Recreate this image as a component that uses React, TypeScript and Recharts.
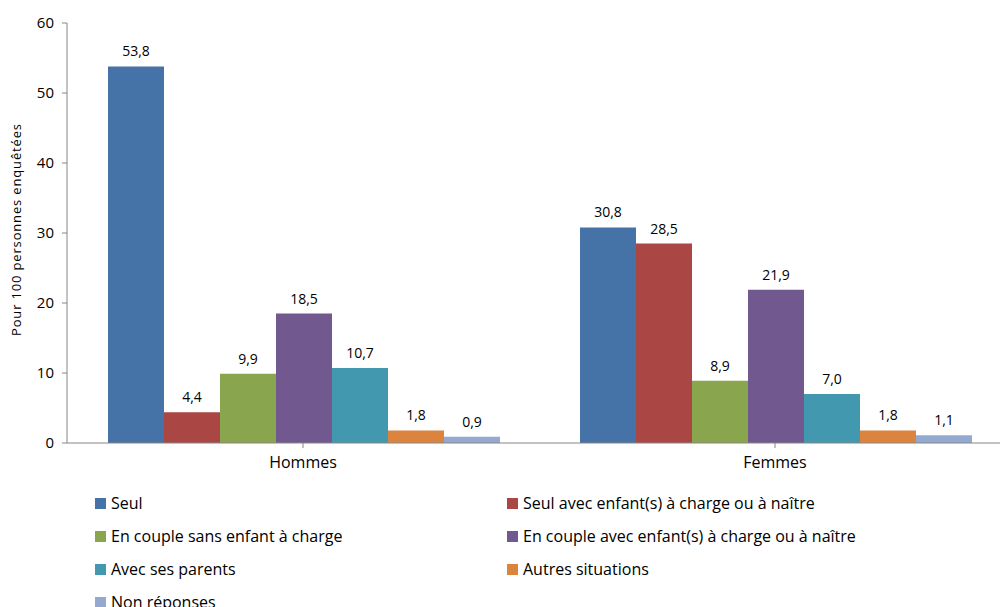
import { BarChart, Bar, XAxis, YAxis, LabelList } from 'recharts';

const categories = ['Hommes', 'Femmes'];
const seriesNames = [
  'Seul',
  'Seul avec enfant(s) à charge ou à naître',
  'En couple sans enfant à charge',
  'En couple avec enfant(s) à charge ou à naître',
  'Avec ses parents',
  'Autres situations',
  'Non réponses',
];
const seriesColors = ['#4572A7', '#AA4643', '#89A54E', '#71588F', '#4198AF', '#DB843D', '#93A9CF'];
// valeurs par série : [Hommes, Femmes]
const seul = [53.8, 30.8];
const seulEnfant = [4.4, 28.5];
const coupleSans = [9.9, 8.9];
const coupleAvec = [18.5, 21.9];
const parents = [10.7, 7.0];
const autres = [1.8, 1.8];
const nonRep = [0.9, 1.1];
const yTicks = [0, 10, 20, 30, 40, 50, 60];

const seriesValues = [seul, seulEnfant, coupleSans, coupleAvec, parents, autres, nonRep];
const data = categories.map((cat, i) => {
  const row: Record<string, string | number> = { cat };
  seriesNames.forEach((name, s) => {
    row[`s${s}`] = seriesValues[s][i];
  });
  return row;
});

const FONT = '"Open Sans", "Noto Sans", sans-serif';
const fmt = (v: any) => Number(v).toFixed(1).replace('.', ',');

const YTitle = (props: any) => {
  const vb = props.viewBox || {};
  const cx = 16;
  const cy = (vb.y ?? 23) + (vb.height ?? 420) / 2 - 3;
  return (
    <text
      x={cx}
      y={cy}
      transform={`rotate(-90, ${cx}, ${cy})`}
      textAnchor="middle"
      dominantBaseline="central"
      fontSize={13}
      textLength={212}
      lengthAdjust="spacing"
      fontFamily={FONT}
      fill="#000"
    >
      Pour 100 personnes enquêtées
    </text>
  );
};

export default function App() {
  return (
    <div
      style={{
        position: 'fixed',
        left: 0,
        top: 0,
        width: 1000,
        height: 607,
        overflow: 'hidden',
        background: '#fff',
        fontFamily: FONT,
      }}
    >
      <BarChart
        width={1030}
        height={483}
        data={data}
        margin={{ top: 23, right: 19, bottom: 0, left: 0 }}
        barCategoryGap={41}
        barGap={0}
      >
        <XAxis
          dataKey="cat"
          height={40}
          axisLine={{ stroke: '#868686' }}
          tickLine={{ stroke: '#868686' }}
          tick={{ fill: '#000', fontSize: 16, fontFamily: FONT }}
          tickSize={5}
          tickMargin={9}
        />
        <YAxis
          width={67}
          domain={[0, 60]}
          ticks={yTicks}
          axisLine={{ stroke: '#868686' }}
          tickLine={{ stroke: '#868686' }}
          tick={{ fill: '#000', fontSize: 15, fontFamily: FONT }}
          tickSize={5}
          tickMargin={8}
          label={<YTitle />}
        />
        {seriesNames.map((name, s) => (
          <Bar key={name} dataKey={`s${s}`} name={name} fill={seriesColors[s]} isAnimationActive={false}>
            <LabelList
              dataKey={`s${s}`}
              position="top"
              offset={10}
              formatter={fmt}
              style={{ fontSize: 14, fontFamily: FONT, fill: '#000' }}
            />
          </Bar>
        ))}
      </BarChart>
      <div style={{ position: 'absolute', left: 95, top: 490, width: 900 }}>
        {seriesNames.map((name, s) => (
          <div
            key={name}
            style={{
              position: 'absolute',
              left: s % 2 === 0 ? 0 : 412,
              top: Math.floor(s / 2) * 33,
              display: 'flex',
              alignItems: 'center',
              height: 26,
              fontSize: 16,
              color: '#000',
              whiteSpace: 'nowrap',
            }}
          >
            <span
              style={{
                display: 'inline-block',
                width: 11,
                height: 11,
                background: seriesColors[s],
                marginRight: 5,
              }}
            />
            {name}
          </div>
        ))}
      </div>
    </div>
  );
}
